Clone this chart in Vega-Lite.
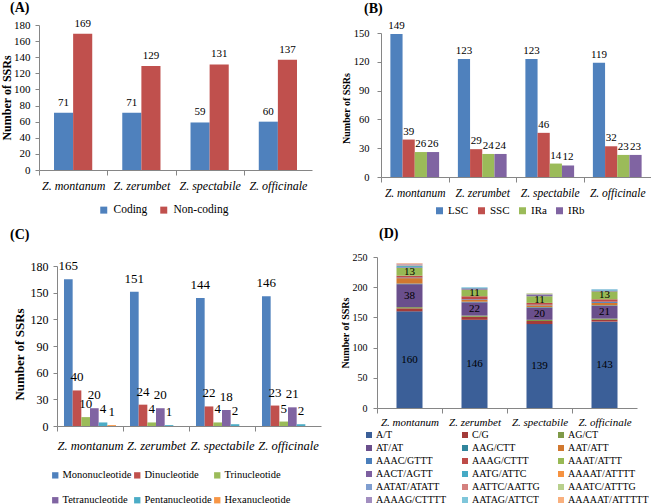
{
  "$schema": "https://vega.github.io/schema/vega-lite/v6.json",
  "padding": {"left": 0, "top": 0, "right": 0, "bottom": 0},
  "background": "white",
  "columns": 2,
  "bounds": "flush",
  "align": "each",
  "spacing": {"row": 80, "column": 56},
  "resolve": {"scale": {"color": "independent", "x": "independent", "y": "independent", "xOffset": "independent"}, "legend": {"color": "independent"}, "axis": {"x": "independent", "y": "independent"}},
  "config": {
    "font": "Liberation Serif, Times New Roman, Times, DejaVu Serif, serif",
    "view": {"stroke": null},
    "axis": {"labelFont": "Liberation Serif, Times New Roman, Times, DejaVu Serif, serif", "titleFont": "Liberation Serif, Times New Roman, Times, DejaVu Serif, serif", "domainColor": "#868686", "tickColor": "#868686", "grid": false, "labelColor": "black", "titleColor": "black", "titleFontWeight": "bold", "labelFlush": false, "labelOverlap": false},
    "legend": {"labelFont": "Liberation Serif, Times New Roman, Times, DejaVu Serif, serif", "labelColor": "black", "symbolType": "square", "symbolStrokeWidth": 0, "padding": 0},
    "title": {"font": "Liberation Serif, Times New Roman, Times, DejaVu Serif, serif", "fontWeight": "bold", "fontSize": 14, "anchor": "start", "frame": "group", "color": "black"},
    "text": {"font": "Liberation Serif, Times New Roman, Times, DejaVu Serif, serif", "color": "black"}
  },
  "concat": [
    {
      "width": 273,
      "height": 145,
      "title": {"text": "(A)", "dx": -29, "offset": 3},
      "data": {"values": [
        {"species": "Z. montanum", "type": "Coding", "count": 71},
        {"species": "Z. montanum", "type": "Non-coding", "count": 169},
        {"species": "Z. zerumbet", "type": "Coding", "count": 71},
        {"species": "Z. zerumbet", "type": "Non-coding", "count": 129},
        {"species": "Z. spectabile", "type": "Coding", "count": 59},
        {"species": "Z. spectabile", "type": "Non-coding", "count": 131},
        {"species": "Z. officinale", "type": "Coding", "count": 60},
        {"species": "Z. officinale", "type": "Non-coding", "count": 137}
      ]},
      "encoding": {
        "x": {"field": "species", "type": "nominal", "sort": null, "scale": {"paddingInner": 0.44, "paddingOuter": 0.22},
              "axis": {"title": null, "labelAngle": 0, "labelFontStyle": "italic", "labelFontSize": 12, "tickOffset": -34.1, "labelOffset": 34.1, "tickSize": 5, "labelPadding": 5}},
        "xOffset": {"field": "type", "type": "nominal", "sort": null, "scale": {"domain": ["Coding", "Non-coding"], "paddingOuter": 0, "paddingInner": 0}},
        "y": {"field": "count", "type": "quantitative", "scale": {"domain": [0, 180]},
              "axis": {"values": [0, 20, 40, 60, 80, 100, 120, 140, 160, 180], "title": "Number of SSRs", "titleFontSize": 12, "labelFontSize": 11, "tickSize": 4, "labelPadding": 5, "titlePadding": 0}}
      },
      "layer": [
        {"mark": {"type": "bar"},
         "encoding": {"color": {"field": "type", "type": "nominal", "sort": null,
           "scale": {"domain": ["Coding", "Non-coding"], "range": ["#4F81BD", "#C0504D"]},
           "legend": {"orient": "none", "legendX": 59, "legendY": 179, "direction": "horizontal", "title": null, "labelFontSize": 11.5, "symbolSize": 49, "columnPadding": 10, "labelOffset": 4}}}},
        {"mark": {"type": "text", "baseline": "bottom", "dy": -5, "fontSize": 11},
         "encoding": {"text": {"field": "count", "type": "quantitative"}}}
      ]
    },
    {
      "width": 274,
      "height": 152,
      "title": {"text": "(B)", "dx": -13, "offset": 4},
      "data": {"values": [
        {"species": "Z. montanum", "region": "LSC", "count": 149},
        {"species": "Z. montanum", "region": "SSC", "count": 39},
        {"species": "Z. montanum", "region": "IRa", "count": 26},
        {"species": "Z. montanum", "region": "IRb", "count": 26},
        {"species": "Z. zerumbet", "region": "LSC", "count": 123},
        {"species": "Z. zerumbet", "region": "SSC", "count": 29},
        {"species": "Z. zerumbet", "region": "IRa", "count": 24},
        {"species": "Z. zerumbet", "region": "IRb", "count": 24},
        {"species": "Z. spectabile", "region": "LSC", "count": 123},
        {"species": "Z. spectabile", "region": "SSC", "count": 46},
        {"species": "Z. spectabile", "region": "IRa", "count": 14},
        {"species": "Z. spectabile", "region": "IRb", "count": 12},
        {"species": "Z. officinale", "region": "LSC", "count": 119},
        {"species": "Z. officinale", "region": "SSC", "count": 32},
        {"species": "Z. officinale", "region": "IRa", "count": 23},
        {"species": "Z. officinale", "region": "IRb", "count": 23}
      ]},
      "encoding": {
        "x": {"field": "species", "type": "nominal", "sort": null, "scale": {"range": [4, 274], "paddingInner": 0.278, "paddingOuter": 0.139},
              "axis": {"title": null, "labelAngle": 0, "labelFontStyle": "italic", "labelFontSize": 11.5, "tickOffset": -33.75, "labelOffset": 33.75, "tickSize": 5, "labelPadding": 5}},
        "xOffset": {"field": "region", "type": "nominal", "sort": null, "scale": {"domain": ["LSC", "SSC", "IRa", "IRb"], "paddingOuter": 0, "paddingInner": 0}},
        "y": {"field": "count", "type": "quantitative", "scale": {"domain": [0, 150], "range": [152, 8]},
              "axis": {"values": [0, 30, 60, 90, 120, 150], "offset": -4, "title": "Number of SSRs", "titleFontSize": 10, "labelFontSize": 10.5, "tickSize": 4, "labelPadding": 8, "titlePadding": 2, "titleY": 83}}
      },
      "layer": [
        {"mark": {"type": "bar"},
         "encoding": {"color": {"field": "region", "type": "nominal", "sort": null,
           "scale": {"domain": ["LSC", "SSC", "IRa", "IRb"], "range": ["#4F81BD", "#C0504D", "#9BBB59", "#8064A2"]},
           "legend": {"orient": "none", "legendX": 57, "legendY": 180, "direction": "horizontal", "title": null, "labelFontSize": 11, "symbolSize": 49, "columnPadding": 7, "labelOffset": 3}}}},
        {"mark": {"type": "text", "baseline": "bottom", "dy": -3, "fontSize": 11},
         "encoding": {"text": {"field": "count", "type": "quantitative"}}}
      ]
    },
    {
      "width": 282,
      "height": 169,
      "title": {"text": "(C)", "dx": -29, "offset": 15},
      "data": {"values": [
        {"species": "Z. montanum", "motif": "Mononucleotide", "count": 165},
        {"species": "Z. montanum", "motif": "Dinucleotide", "count": 40},
        {"species": "Z. montanum", "motif": "Trinucleotide", "count": 10},
        {"species": "Z. montanum", "motif": "Tetranucleotide", "count": 20},
        {"species": "Z. montanum", "motif": "Pentanucleotide", "count": 4},
        {"species": "Z. montanum", "motif": "Hexanucleotide", "count": 1},
        {"species": "Z. zerumbet", "motif": "Mononucleotide", "count": 151},
        {"species": "Z. zerumbet", "motif": "Dinucleotide", "count": 24},
        {"species": "Z. zerumbet", "motif": "Trinucleotide", "count": 4},
        {"species": "Z. zerumbet", "motif": "Tetranucleotide", "count": 20},
        {"species": "Z. zerumbet", "motif": "Pentanucleotide", "count": 1},
        {"species": "Z. spectabile", "motif": "Mononucleotide", "count": 144},
        {"species": "Z. spectabile", "motif": "Dinucleotide", "count": 22},
        {"species": "Z. spectabile", "motif": "Trinucleotide", "count": 4},
        {"species": "Z. spectabile", "motif": "Tetranucleotide", "count": 18},
        {"species": "Z. spectabile", "motif": "Pentanucleotide", "count": 2},
        {"species": "Z. officinale", "motif": "Mononucleotide", "count": 146},
        {"species": "Z. officinale", "motif": "Dinucleotide", "count": 23},
        {"species": "Z. officinale", "motif": "Trinucleotide", "count": 5},
        {"species": "Z. officinale", "motif": "Tetranucleotide", "count": 21},
        {"species": "Z. officinale", "motif": "Pentanucleotide", "count": 2}
      ]},
      "encoding": {
        "x": {"field": "species", "type": "nominal", "sort": null, "scale": {"range": [18, 282], "paddingInner": 0.212, "paddingOuter": 0.106},
              "axis": {"title": null, "labelAngle": 0, "labelFontStyle": "italic", "labelFontSize": 12.5, "tickOffset": -33, "labelOffset": 33, "tickSize": 5, "labelPadding": 8}},
        "xOffset": {"field": "motif", "type": "nominal", "sort": null, "scale": {"domain": ["Mononucleotide", "Dinucleotide", "Trinucleotide", "Tetranucleotide", "Pentanucleotide", "Hexanucleotide"], "paddingOuter": 0, "paddingInner": 0}},
        "y": {"field": "count", "type": "quantitative", "scale": {"domain": [0, 180], "range": [169, 9]},
              "axis": {"values": [0, 30, 60, 90, 120, 150, 180], "offset": -18, "title": "Number of SSRs", "titleFontSize": 13, "labelFontSize": 12, "tickSize": 4, "labelPadding": 5, "titlePadding": 4, "titleY": 97}}
      },
      "layer": [
        {"mark": {"type": "bar"},
         "encoding": {"color": {"field": "motif", "type": "nominal", "sort": null,
           "scale": {"domain": ["Mononucleotide", "Dinucleotide", "Trinucleotide", "Tetranucleotide", "Pentanucleotide", "Hexanucleotide"], "range": ["#4F81BD", "#C0504D", "#9BBB59", "#8064A2", "#4BACC6", "#F79646"]},
           "legend": {"orient": "none", "legendX": 11, "legendY": 213, "direction": "horizontal", "columns": 3, "title": null, "labelFontSize": 10.5, "symbolSize": 40, "columnPadding": -3, "rowPadding": 14, "labelOffset": 2}}}},
        {"mark": {"type": "text", "baseline": "bottom", "dy": -6, "fontSize": 13},
         "encoding": {"text": {"field": "count", "type": "quantitative"}}}
      ]
    },
    {
      "width": 260,
      "height": 151,
      "title": {"text": "(D)", "dx": 2, "offset": 11},
      "data": {"values": [
        {"species": "Z. montanum", "motif": "A/T", "count": 160},
        {"species": "Z. montanum", "motif": "C/G", "count": 5},
        {"species": "Z. montanum", "motif": "AG/CT", "count": 2},
        {"species": "Z. montanum", "motif": "AT/AT", "count": 38},
        {"species": "Z. montanum", "motif": "AAG/CTT", "count": 1},
        {"species": "Z. montanum", "motif": "AAT/ATT", "count": 9},
        {"species": "Z. montanum", "motif": "AAAC/GTTT", "count": 1},
        {"species": "Z. montanum", "motif": "AAAG/CTTT", "count": 3},
        {"species": "Z. montanum", "motif": "AAAT/ATTT", "count": 13},
        {"species": "Z. montanum", "motif": "AACT/AGTT", "count": 1},
        {"species": "Z. montanum", "motif": "AATG/ATTC", "count": 2},
        {"species": "Z. montanum", "motif": "AAAAT/ATTTT", "count": 1},
        {"species": "Z. montanum", "motif": "AATAT/ATATT", "count": 1},
        {"species": "Z. montanum", "motif": "AATTC/AATTG", "count": 1},
        {"species": "Z. montanum", "motif": "AAAAG/CTTTT", "count": 1},
        {"species": "Z. montanum", "motif": "AAAAAT/ATTTTT", "count": 1},
        {"species": "Z. zerumbet", "motif": "A/T", "count": 146},
        {"species": "Z. zerumbet", "motif": "C/G", "count": 5},
        {"species": "Z. zerumbet", "motif": "AG/CT", "count": 2},
        {"species": "Z. zerumbet", "motif": "AT/AT", "count": 22},
        {"species": "Z. zerumbet", "motif": "AAG/CTT", "count": 1},
        {"species": "Z. zerumbet", "motif": "AAT/ATT", "count": 3},
        {"species": "Z. zerumbet", "motif": "AAAC/GTTT", "count": 1},
        {"species": "Z. zerumbet", "motif": "AAAG/CTTT", "count": 5},
        {"species": "Z. zerumbet", "motif": "AAAT/ATTT", "count": 11},
        {"species": "Z. zerumbet", "motif": "AACT/AGTT", "count": 2},
        {"species": "Z. zerumbet", "motif": "AATG/ATTC", "count": 1},
        {"species": "Z. zerumbet", "motif": "AATAG/ATTCT", "count": 1},
        {"species": "Z. spectabile", "motif": "A/T", "count": 139},
        {"species": "Z. spectabile", "motif": "C/G", "count": 5},
        {"species": "Z. spectabile", "motif": "AG/CT", "count": 2},
        {"species": "Z. spectabile", "motif": "AT/AT", "count": 20},
        {"species": "Z. spectabile", "motif": "AAG/CTT", "count": 1},
        {"species": "Z. spectabile", "motif": "AAT/ATT", "count": 3},
        {"species": "Z. spectabile", "motif": "AAAC/GTTT", "count": 1},
        {"species": "Z. spectabile", "motif": "AAAG/CTTT", "count": 3},
        {"species": "Z. spectabile", "motif": "AAAT/ATTT", "count": 11},
        {"species": "Z. spectabile", "motif": "AACT/AGTT", "count": 2},
        {"species": "Z. spectabile", "motif": "AATG/ATTC", "count": 1},
        {"species": "Z. spectabile", "motif": "AATTC/AATTG", "count": 1},
        {"species": "Z. spectabile", "motif": "AAATC/ATTTG", "count": 1},
        {"species": "Z. officinale", "motif": "A/T", "count": 143},
        {"species": "Z. officinale", "motif": "C/G", "count": 3},
        {"species": "Z. officinale", "motif": "AG/CT", "count": 2},
        {"species": "Z. officinale", "motif": "AT/AT", "count": 21},
        {"species": "Z. officinale", "motif": "AAG/CTT", "count": 1},
        {"species": "Z. officinale", "motif": "AAT/ATT", "count": 4},
        {"species": "Z. officinale", "motif": "AAAC/GTTT", "count": 2},
        {"species": "Z. officinale", "motif": "AAAG/CTTT", "count": 4},
        {"species": "Z. officinale", "motif": "AAAT/ATTT", "count": 13},
        {"species": "Z. officinale", "motif": "AACT/AGTT", "count": 1},
        {"species": "Z. officinale", "motif": "AATG/ATTC", "count": 1},
        {"species": "Z. officinale", "motif": "AATAT/ATATT", "count": 1},
        {"species": "Z. officinale", "motif": "AATAG/ATTCT", "count": 1}
      ]},
      "transform": [
        {"stack": "count", "groupby": ["species"], "as": ["y0", "y1"]},
        {"calculate": "(datum.y0 + datum.y1) / 2", "as": "ymid"}
      ],
      "encoding": {
        "x": {"field": "species", "type": "nominal", "sort": null, "scale": {"paddingInner": 0.6, "paddingOuter": 0.3},
              "axis": {"title": null, "labelAngle": 0, "labelFontStyle": "italic", "labelFontSize": 11, "tickOffset": -32.5, "labelOffset": 32.5, "tickSize": 5, "labelPadding": 3}}
      },
      "layer": [
        {"mark": {"type": "bar"},
         "encoding": {
           "y": {"field": "y0", "type": "quantitative", "scale": {"domain": [0, 250], "nice": false},
                 "axis": {"values": [0, 50, 100, 150, 200, 250], "title": "Number of SSRs", "titleFontSize": 10, "labelFontSize": 10, "tickSize": 4, "labelPadding": 6, "titlePadding": 2}},
           "y2": {"field": "y1"},
           "color": {"field": "motif", "type": "nominal", "sort": null,
             "scale": {"domain": ["A/T", "C/G", "AG/CT", "AT/AT", "AAG/CTT", "AAT/ATT", "AAAC/GTTT", "AAAG/CTTT", "AAAT/ATTT", "AACT/AGTT", "AATG/ATTC", "AAAAT/ATTTT", "AATAT/ATATT", "AATTC/AATTG", "AAATC/ATTTG", "AAAAG/CTTTT", "AATAG/ATTCT", "AAAAAT/ATTTTT"],
                       "range": ["#3B5F98", "#A33B39", "#7F9A48", "#6A4F8C", "#31859C", "#D1782F", "#4A7EBB", "#BE4B48", "#98B954", "#7D5FA0", "#46AAC5", "#F69240", "#7F9ED0", "#D4807E", "#B8D08D", "#A28EC0", "#7FC6DA", "#F9B07E"]},
             "legend": {"orient": "none", "legendX": -13, "legendY": 173, "direction": "horizontal", "columns": 3, "gridAlign": "all", "title": null, "labelFontSize": 10, "symbolSize": 36, "columnPadding": 3, "rowPadding": 3, "labelOffset": 2}}
         }},
        {"transform": [{"filter": {"field": "motif", "oneOf": ["A/T", "AT/AT", "AAAT/ATTT"]}}],
         "mark": {"type": "text", "fontSize": 11, "baseline": "middle"},
         "encoding": {
           "y": {"field": "ymid", "type": "quantitative", "scale": {"domain": [0, 250], "nice": false},
                 "axis": {"values": [0, 50, 100, 150, 200, 250], "title": "Number of SSRs", "titleFontSize": 10, "labelFontSize": 10, "tickSize": 4, "labelPadding": 6, "titlePadding": 2}},
           "text": {"field": "count", "type": "quantitative"}
         }}
      ]
    }
  ]
}
